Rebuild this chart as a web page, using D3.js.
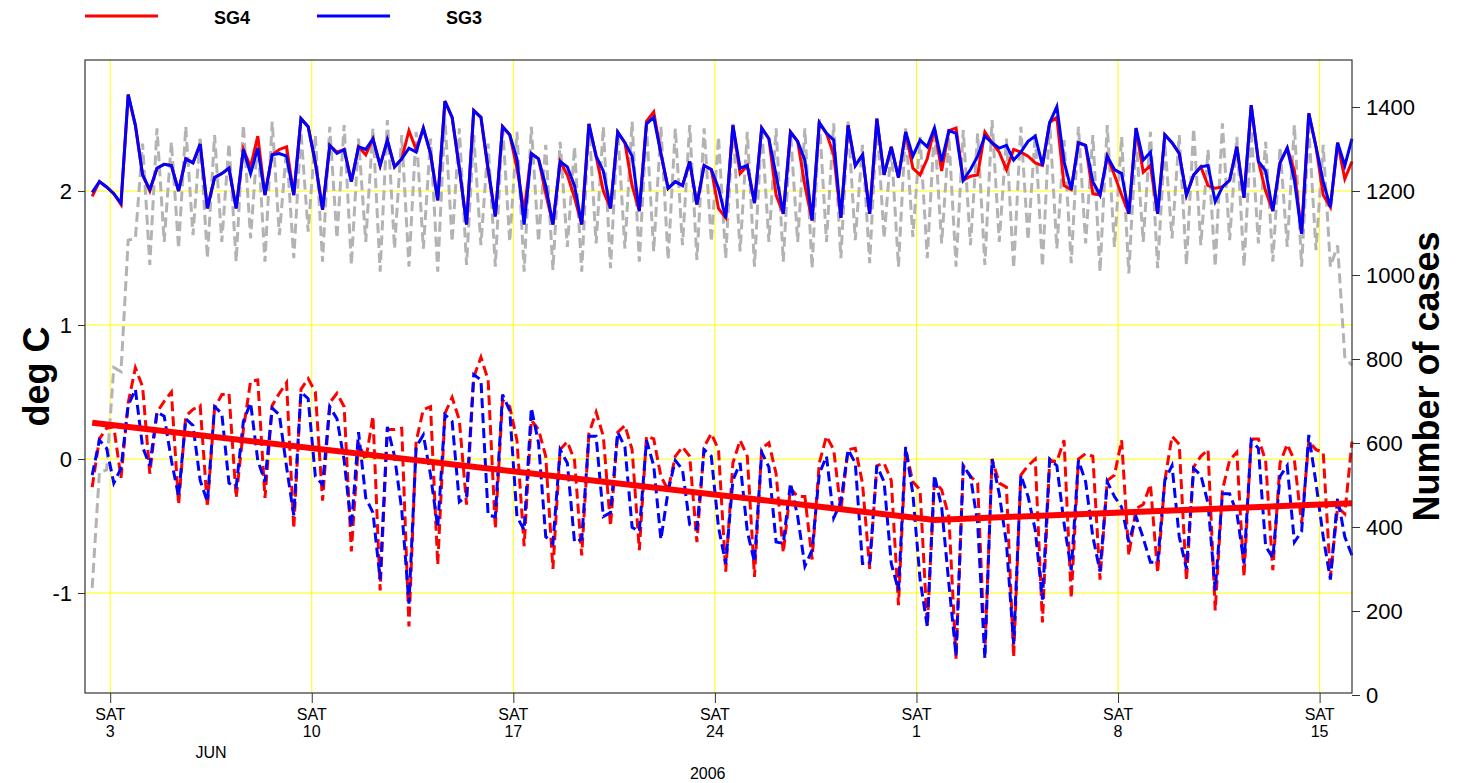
<!DOCTYPE html>
<html>
<head>
<meta charset="utf-8">
<script src="https://cdn.jsdelivr.net/npm/d3@7"></script>
<style>
  body { margin: 0; background: #fff; }
  svg { font-family: "Liberation Sans", Arial, Helvetica, sans-serif; }
</style>
</head>
<body>
<div id="chart"></div>
<script>
// six-hourly readings, first one at 2 June 2006 09:00
const startTime = new Date(2006, 5, 2, 9);

// deg C, solid lines (upper band)
const sg4Solid = [
  1.96, 2.07, 2.03, 1.98,  1.90, 2.72, 2.49, 2.12,  2.00, 2.17, 2.20, 2.19,  2.00, 2.24, 2.21, 2.35,
  1.87, 2.10, 2.13, 2.17,  1.87, 2.31, 2.18, 2.41,  1.97, 2.27, 2.31, 2.33,  1.97, 2.54, 2.48, 2.21,
  1.86, 2.34, 2.29, 2.31,  2.07, 2.33, 2.27, 2.39,  2.19, 2.38, 2.18, 2.24,  2.45, 2.31, 2.47, 2.28,
  1.93, 2.67, 2.55, 2.17,  1.75, 2.60, 2.55, 2.15,  1.81, 2.48, 2.42, 2.17,  1.85, 2.28, 2.24, 1.98,
  1.75, 2.22, 2.12, 1.95,  1.75, 2.50, 2.26, 2.00,  1.87, 2.44, 2.36, 2.04,  1.85, 2.52, 2.59, 2.28,
  2.02, 2.07, 2.04, 2.22,  1.90, 2.19, 2.16, 1.87,  1.80, 2.49, 2.13, 2.19,  1.91, 2.47, 2.39, 1.97,
  1.83, 2.44, 2.37, 2.04,  1.78, 2.51, 2.43, 2.27,  1.80, 2.49, 2.19, 2.27,  1.83, 2.54, 2.12, 2.33,
  2.10, 2.44, 2.17, 2.12,  2.24, 2.47, 2.15, 2.45,  2.47, 2.08, 2.11, 2.12,  2.44, 2.36, 2.29, 2.16,
  2.31, 2.29, 2.26, 2.21,  2.19, 2.51, 2.55, 2.04,  2.01, 2.36, 2.34, 1.98,  1.97, 2.26, 2.12, 1.97,
  1.83, 2.47, 2.14, 2.19,  1.83, 2.42, 2.36, 2.28,  1.97, 2.12, 2.18, 2.04,  2.02, 2.03, 2.08, 2.33,
  1.95, 2.64, 2.22, 2.00,  1.85, 2.21, 2.32, 2.15,  1.68, 2.58, 2.33, 1.97,  1.88, 2.36, 2.09, 2.22
];
const sg3Solid = [
  1.99, 2.07, 2.03, 1.98,  1.91, 2.72, 2.49, 2.12,  2.01, 2.17, 2.20, 2.19,  2.00, 2.24, 2.21, 2.35,
  1.87, 2.10, 2.13, 2.17,  1.87, 2.31, 2.13, 2.32,  1.97, 2.27, 2.28, 2.26,  1.97, 2.54, 2.48, 2.21,
  1.86, 2.34, 2.28, 2.31,  2.07, 2.33, 2.31, 2.39,  2.19, 2.38, 2.18, 2.24,  2.32, 2.29, 2.47, 2.28,
  1.93, 2.67, 2.55, 2.17,  1.75, 2.60, 2.55, 2.17,  1.81, 2.48, 2.42, 2.24,  1.75, 2.28, 2.24, 2.04,
  1.75, 2.22, 2.18, 2.04,  1.75, 2.50, 2.26, 2.15,  1.87, 2.44, 2.36, 2.26,  1.85, 2.50, 2.55, 2.28,
  2.02, 2.07, 2.04, 2.22,  1.90, 2.19, 2.16, 2.02,  1.80, 2.49, 2.17, 2.19,  1.91, 2.47, 2.39, 2.12,
  1.83, 2.44, 2.37, 2.23,  1.78, 2.51, 2.43, 2.38,  1.80, 2.49, 2.19, 2.27,  1.83, 2.54, 2.12, 2.33,
  2.10, 2.44, 2.26, 2.38,  2.33, 2.47, 2.22, 2.45,  2.43, 2.08, 2.16, 2.26,  2.41, 2.36, 2.32, 2.34,
  2.23, 2.29, 2.37, 2.41,  2.19, 2.51, 2.63, 2.22,  2.01, 2.36, 2.34, 2.07,  1.97, 2.26, 2.16, 2.13,
  1.83, 2.47, 2.23, 2.29,  1.83, 2.42, 2.36, 2.28,  1.97, 2.12, 2.18, 2.19,  1.92, 2.03, 2.08, 2.33,
  1.95, 2.64, 2.22, 2.15,  1.85, 2.21, 2.32, 2.08,  1.68, 2.58, 2.33, 2.07,  1.88, 2.36, 2.19, 2.39
];

// deg C, dashed lines (lower band)
const sg4Dashed = [
  -0.21, 0.15, 0.23, 0.24,  -0.14, 0.42, 0.68, 0.54,  -0.11, 0.35, 0.43, 0.50,  -0.34, 0.32, 0.37, 0.40,
  -0.36, 0.38, 0.48, 0.49,  -0.29, 0.22, 0.58, 0.59,  -0.29, 0.40, 0.49, 0.57,  -0.52, 0.52, 0.60, 0.50,
  -0.31, 0.42, 0.49, 0.39,  -0.69, 0.12, -0.01, 0.32,  -0.98, 0.22, 0.22, 0.23,  -1.25, 0.13, 0.37, 0.39,
  -0.79, 0.34, 0.46, 0.29,  -0.34, 0.61, 0.76, 0.59,  -0.52, 0.44, 0.39, 0.14,  -0.65, 0.29, 0.22, 0.02,
  -0.82, 0.07, 0.13, -0.01,  -0.72, 0.19, 0.35, 0.17,  -0.50, 0.20, 0.25, 0.07,  -0.68, 0.17, 0.15, -0.13,
  -0.23, 0.02, 0.09, 0.02,  -0.62, 0.09, 0.19, 0.07,  -0.84, -0.03, 0.14, 0.02,  -0.88, 0.08, 0.12, -0.11,
  -0.70, -0.22, -0.28, -0.28,  -0.75, -0.03, 0.17, 0.07,  -0.38, 0.07, 0.08, -0.18,  -0.82, -0.05, -0.03, -0.16,
  -1.09, 0.07, -0.17, -0.23,  -1.25, -0.17, -0.23, -0.43,  -1.49, -0.05, -0.13, -0.18,  -1.45, 0.00, -0.18, -0.21,
  -1.48, -0.12, -0.05, 0.00,  -1.22, -0.01, -0.02, 0.14,  -1.04, 0.00, 0.04, 0.02,  -0.90, -0.16, -0.12, 0.14,
  -0.72, -0.37, -0.34, -0.19,  -0.85, -0.16, 0.17, 0.11,  -0.91, -0.06, 0.02, 0.07,  -1.13, -0.23, -0.01, 0.05,
  -0.88, 0.15, 0.15, -0.01,  -0.83, -0.03, 0.11, -0.01,  -0.48, 0.13, 0.07, 0.05,  -0.88, -0.36, -0.41, 0.13
];
const sg3Dashed = [
  -0.12, 0.14, 0.08, -0.18,  -0.07, 0.40, 0.52, 0.09,  -0.05, 0.35, 0.32, -0.01,  -0.28, 0.30, 0.25, -0.16,
  -0.32, 0.39, 0.34, -0.18,  -0.21, 0.28, 0.42, -0.01,  -0.17, 0.38, 0.33, -0.06,  -0.42, 0.50, 0.45, -0.13,
  -0.19, 0.39, 0.30, -0.01,  -0.51, 0.20, -0.29, -0.40,  -0.90, 0.24, 0.02, -0.38,  -1.08, 0.09, 0.18, -0.12,
  -0.51, 0.33, 0.28, -0.32,  -0.28, 0.63, 0.59, -0.42,  -0.43, 0.48, 0.36, -0.43,  -0.53, 0.38, 0.12, -0.58,
  -0.63, 0.07, -0.03, -0.62,  -0.60, 0.17, 0.17, -0.43,  -0.40, 0.20, 0.09, -0.51,  -0.54, 0.14, -0.05, -0.60,
  -0.24, -0.01, -0.08, -0.49,  -0.52, 0.07, 0.02, -0.51,  -0.78, -0.16, -0.03, -0.54,  -0.77, 0.05, -0.06, -0.62,
  -0.63, -0.18, -0.43, -0.80,  -0.68, -0.11, 0.02, -0.44,  -0.32, 0.07, -0.03, -0.78,  -0.78, -0.05, -0.17, -0.78,
  -0.98, 0.09, -0.26, -0.90,  -1.25, -0.12, -0.36, -0.93,  -1.47, -0.05, -0.13, -0.48,  -1.49, 0.00, -0.26, -0.63,
  -1.38, -0.12, -0.28, -0.53,  -1.05, 0.00, -0.05, -0.48,  -0.83, -0.01, -0.17, -0.58,  -0.84, -0.17, -0.28, -0.36,
  -0.62, -0.43, -0.59, -0.77,  -0.77, -0.16, -0.05, -0.58,  -0.82, -0.07, -0.12, -0.33,  -0.98, -0.26, -0.26, -0.40,
  -0.78, 0.14, 0.08, -0.65,  -0.74, -0.13, -0.05, -0.62,  -0.54, 0.18, -0.18, -0.58,  -0.90, -0.29, -0.58, -0.72
];

// number of cases (right axis), grey dashed
const cases = [
  255, 530, 536, 780,  770, 1083, 1087, 1313,  1024, 1349, 1079, 1317,  1063, 1353, 1095, 1329,
  1040, 1333, 1079, 1313,  1032, 1357, 1087, 1325,  1032, 1365, 1095, 1302,  1040, 1341, 1103, 1333,
  1032, 1353, 1087, 1357,  1024, 1325, 1079, 1349,  1008, 1369, 1063, 1333,  1020, 1341, 1063, 1325,
  1008, 1373, 1079, 1349,  1024, 1333, 1071, 1313,  1020, 1357, 1079, 1341,  1008, 1353, 1079, 1310,
  1012, 1317, 1067, 1305,  1008, 1361, 1075, 1353,  1016, 1345, 1063, 1365,  1032, 1353, 1056, 1353,
  1036, 1349, 1071, 1357,  1036, 1349, 1079, 1329,  1040, 1361, 1056, 1341,  1020, 1353, 1079, 1349,
  1032, 1341, 1079, 1349,  1016, 1373, 1079, 1361,  1040, 1365, 1083, 1310,  1028, 1369, 1087, 1305,
  1020, 1349, 1091, 1329,  1040, 1349, 1075, 1329,  1020, 1345, 1071, 1337,  1024, 1369, 1079, 1325,
  1016, 1353, 1083, 1337,  1020, 1365, 1063, 1321,  1028, 1353, 1075, 1333,  1008, 1357, 1067, 1329,
  1004, 1325, 1079, 1341,  1016, 1313, 1087, 1333,  1024, 1349, 1071, 1298,  1020, 1361, 1083, 1329,
  1020, 1345, 1075, 1317,  1032, 1305, 1067, 1357,  1020, 1349, 1059, 1310,  1020, 1070, 805, 785
];

// fitted trend (thick red), break points
const trendDates = [new Date(2006, 5, 2, 9), new Date(2006, 6, 1, 15), new Date(2006, 6, 16, 3)];
const trendValues = [0.27, -0.455, -0.33];

const degTicks = [-1, 0, 1, 2];
const caseTicks = [0, 200, 400, 600, 800, 1000, 1200, 1400];
const legendItems = [
  { name: "SG4", color: "#ff0000" },
  { name: "SG3", color: "#0000ff" }
];

const times = sg4Solid.map((d, i) => d3.timeHour.offset(startTime, 6 * i));

const width = 1461, height = 783;
const plotLeft = 85, plotRight = 1352, plotTop = 60, plotBottom = 693;

const svg = d3.select("#chart")
    .append("svg")
    .attr("width", width)
    .attr("height", height);

const x = d3.scaleTime()
    .domain([new Date(2006, 5, 2, 3), new Date(2006, 6, 16, 3)])
    .range([plotLeft, plotRight]);

const y = d3.scaleLinear()
    .domain([-1, 2])
    .range([593, 191]);

const yCases = d3.scaleLinear()
    .domain([0, 1400])
    .range([695, 107]);

const saturdays = x.ticks(d3.timeSaturday);

// grid
const grid = svg.append("g").attr("stroke", "#ffff00").attr("stroke-width", 1);
grid.selectAll(".v")
    .data(saturdays)
    .enter()
    .append("line")
    .attr("x1", d => x(d)).attr("x2", d => x(d))
    .attr("y1", plotTop).attr("y2", plotBottom);
grid.selectAll(".h")
    .data(degTicks)
    .enter()
    .append("line")
    .attr("x1", plotLeft).attr("x2", plotRight)
    .attr("y1", d => y(d)).attr("y2", d => y(d));

const plot = svg.append("g");

const caseLine = d3.line()
    .x((d, i) => x(times[i]))
    .y(d => yCases(d));

const degLine = d3.line()
    .x((d, i) => x(times[i]))
    .y(d => y(d));

plot.append("path")
    .attr("d", caseLine(cases))
    .attr("fill", "none")
    .attr("stroke", "#b3b3b3")
    .attr("stroke-width", 3)
    .attr("stroke-dasharray", "10,5");

plot.append("path")
    .attr("d", degLine(sg4Solid))
    .attr("fill", "none")
    .attr("stroke", "#ff0000")
    .attr("stroke-width", 3);

plot.append("path")
    .attr("d", degLine(sg3Solid))
    .attr("fill", "none")
    .attr("stroke", "#0000ff")
    .attr("stroke-width", 3);

plot.append("path")
    .attr("d", degLine(sg4Dashed))
    .attr("fill", "none")
    .attr("stroke", "#ff0000")
    .attr("stroke-width", 3)
    .attr("stroke-dasharray", "10,5");

plot.append("path")
    .attr("d", degLine(sg3Dashed))
    .attr("fill", "none")
    .attr("stroke", "#0000ff")
    .attr("stroke-width", 3)
    .attr("stroke-dasharray", "10,5");

plot.append("path")
    .attr("d", d3.line().x((d, i) => x(trendDates[i])).y(d => y(d))(trendValues))
    .attr("fill", "none")
    .attr("stroke", "#ff0000")
    .attr("stroke-width", 6);

// box
svg.append("rect")
    .attr("x", plotLeft).attr("y", plotTop)
    .attr("width", plotRight - plotLeft).attr("height", plotBottom - plotTop)
    .attr("fill", "none")
    .attr("stroke", "#333")
    .attr("stroke-width", 1.2);

// left axis (plain hyphen for negatives, as in the original)
const yAxis = svg.append("g")
    .attr("transform", `translate(${plotLeft},0)`)
    .call(d3.axisLeft(y).tickValues(degTicks).tickSize(7).tickPadding(6).tickFormat(d => String(d)));
yAxis.select(".domain").remove();
yAxis.selectAll("text").attr("font-size", 22).attr("fill", "#000").attr("font-family", "Liberation Sans, Arial, sans-serif");
yAxis.selectAll("line").attr("stroke", "#333");

// right axis
const yAxisR = svg.append("g")
    .attr("transform", `translate(${plotRight},0)`)
    .call(d3.axisRight(yCases).tickValues(caseTicks).tickSize(8).tickPadding(6).tickFormat(d => String(d)));
yAxisR.select(".domain").remove();
yAxisR.selectAll("text").attr("font-size", 22).attr("fill", "#000").attr("font-family", "Liberation Sans, Arial, sans-serif");
yAxisR.selectAll("line").attr("stroke", "#333");

// bottom axis
const xAxis = svg.append("g")
    .attr("transform", `translate(0,${plotBottom})`)
    .call(d3.axisBottom(x).tickValues(saturdays).tickSize(10).tickFormat(""));
xAxis.select(".domain").remove();
xAxis.selectAll("line").attr("stroke", "#333");

const xLabels = svg.append("g")
    .attr("font-size", 16)
    .attr("text-anchor", "middle")
    .attr("fill", "#000");
xLabels.selectAll(".dow")
    .data(saturdays)
    .enter()
    .append("text")
    .attr("x", d => x(d))
    .attr("y", 720)
    .text(d => d3.timeFormat("%a")(d).toUpperCase());
xLabels.selectAll(".dom")
    .data(saturdays)
    .enter()
    .append("text")
    .attr("x", d => x(d))
    .attr("y", 737)
    .text(d => d3.timeFormat("%-d")(d));
xLabels.append("text")
    .attr("x", x(new Date(2006, 5, 6, 12)))
    .attr("y", 758)
    .text("JUN");
xLabels.append("text")
    .attr("x", x(new Date(2006, 5, 23, 18)))
    .attr("y", 779)
    .text("2006");

// axis titles
svg.append("text")
    .attr("transform", `translate(49,${(plotTop + plotBottom) / 2}) rotate(-90)`)
    .attr("text-anchor", "middle")
    .attr("font-size", 36)
    .attr("font-weight", "bold")
    .text("deg C");

svg.append("text")
    .attr("transform", `translate(1439,${(plotTop + plotBottom) / 2}) rotate(-90)`)
    .attr("text-anchor", "middle")
    .attr("font-size", 36)
    .attr("font-weight", "bold")
    .text("Number of cases");

// legend
const legend = svg.append("g")
    .selectAll("g")
    .data(legendItems)
    .enter()
    .append("g")
    .attr("transform", (d, i) => `translate(${85 + i * 232},0)`);
legend.append("line")
    .attr("x1", 0).attr("x2", 73)
    .attr("y1", 16).attr("y2", 16)
    .attr("stroke", d => d.color)
    .attr("stroke-width", 3);
legend.append("text")
    .attr("x", 129)
    .attr("y", 24)
    .attr("font-size", 18)
    .attr("font-weight", "bold")
    .text(d => d.name);
</script>
</body>
</html>
